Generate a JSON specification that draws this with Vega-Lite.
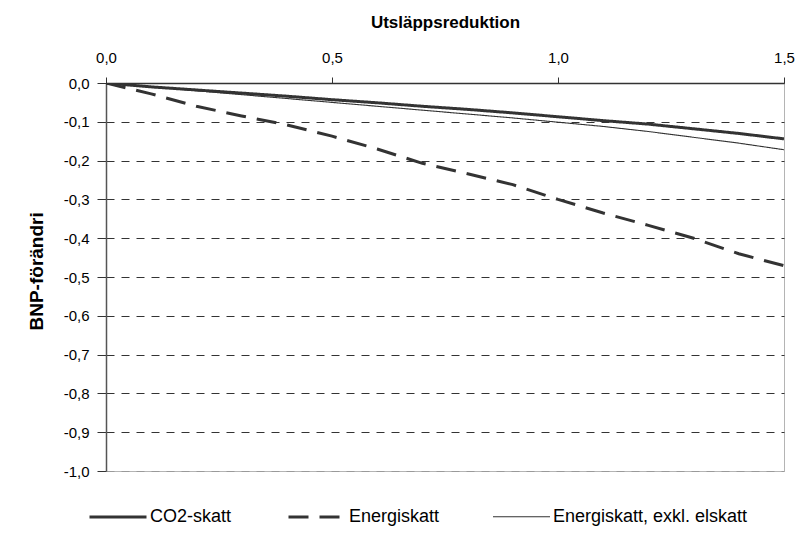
{
  "$schema": "https://vega.github.io/schema/vega-lite/v6.json",
  "width": 678,
  "height": 388,
  "autosize": {"type": "none"},
  "padding": {"left": 106, "top": 83, "right": 11, "bottom": 64},
  "background": "white",
  "config": {
    "font": "Liberation Sans",
    "locale": {"number": {"decimal": ",", "thousands": " ", "grouping": [3], "currency": ["", " kr"], "minus": "-"}},
    "view": {"stroke": "#b4b4b4", "strokeWidth": 1}
  },
  "data": {
    "values": [
      {"reduktion": 0.0, "bnp": 0.0, "serie": "CO2-skatt"},
      {"reduktion": 0.1, "bnp": -0.010, "serie": "CO2-skatt"},
      {"reduktion": 0.2, "bnp": -0.018, "serie": "CO2-skatt"},
      {"reduktion": 0.3, "bnp": -0.026, "serie": "CO2-skatt"},
      {"reduktion": 0.4, "bnp": -0.034, "serie": "CO2-skatt"},
      {"reduktion": 0.5, "bnp": -0.043, "serie": "CO2-skatt"},
      {"reduktion": 0.6, "bnp": -0.051, "serie": "CO2-skatt"},
      {"reduktion": 0.7, "bnp": -0.060, "serie": "CO2-skatt"},
      {"reduktion": 0.8, "bnp": -0.068, "serie": "CO2-skatt"},
      {"reduktion": 0.9, "bnp": -0.077, "serie": "CO2-skatt"},
      {"reduktion": 1.0, "bnp": -0.087, "serie": "CO2-skatt"},
      {"reduktion": 1.1, "bnp": -0.097, "serie": "CO2-skatt"},
      {"reduktion": 1.2, "bnp": -0.106, "serie": "CO2-skatt"},
      {"reduktion": 1.3, "bnp": -0.118, "serie": "CO2-skatt"},
      {"reduktion": 1.4, "bnp": -0.130, "serie": "CO2-skatt"},
      {"reduktion": 1.5, "bnp": -0.144, "serie": "CO2-skatt"},
      {"reduktion": 0.0, "bnp": 0.0, "serie": "Energiskatt"},
      {"reduktion": 0.1, "bnp": -0.028, "serie": "Energiskatt"},
      {"reduktion": 0.2, "bnp": -0.060, "serie": "Energiskatt"},
      {"reduktion": 0.3, "bnp": -0.085, "serie": "Energiskatt"},
      {"reduktion": 0.4, "bnp": -0.108, "serie": "Energiskatt"},
      {"reduktion": 0.5, "bnp": -0.137, "serie": "Energiskatt"},
      {"reduktion": 0.6, "bnp": -0.170, "serie": "Energiskatt"},
      {"reduktion": 0.7, "bnp": -0.207, "serie": "Energiskatt"},
      {"reduktion": 0.8, "bnp": -0.234, "serie": "Energiskatt"},
      {"reduktion": 0.9, "bnp": -0.262, "serie": "Energiskatt"},
      {"reduktion": 1.0, "bnp": -0.300, "serie": "Energiskatt"},
      {"reduktion": 1.1, "bnp": -0.335, "serie": "Energiskatt"},
      {"reduktion": 1.2, "bnp": -0.367, "serie": "Energiskatt"},
      {"reduktion": 1.3, "bnp": -0.400, "serie": "Energiskatt"},
      {"reduktion": 1.4, "bnp": -0.440, "serie": "Energiskatt"},
      {"reduktion": 1.5, "bnp": -0.471, "serie": "Energiskatt"},
      {"reduktion": 0.0, "bnp": 0.0, "serie": "Energiskatt, exkl. elskatt"},
      {"reduktion": 0.1, "bnp": -0.010, "serie": "Energiskatt, exkl. elskatt"},
      {"reduktion": 0.2, "bnp": -0.020, "serie": "Energiskatt, exkl. elskatt"},
      {"reduktion": 0.3, "bnp": -0.030, "serie": "Energiskatt, exkl. elskatt"},
      {"reduktion": 0.4, "bnp": -0.040, "serie": "Energiskatt, exkl. elskatt"},
      {"reduktion": 0.5, "bnp": -0.050, "serie": "Energiskatt, exkl. elskatt"},
      {"reduktion": 0.6, "bnp": -0.060, "serie": "Energiskatt, exkl. elskatt"},
      {"reduktion": 0.7, "bnp": -0.070, "serie": "Energiskatt, exkl. elskatt"},
      {"reduktion": 0.8, "bnp": -0.080, "serie": "Energiskatt, exkl. elskatt"},
      {"reduktion": 0.9, "bnp": -0.090, "serie": "Energiskatt, exkl. elskatt"},
      {"reduktion": 1.0, "bnp": -0.101, "serie": "Energiskatt, exkl. elskatt"},
      {"reduktion": 1.1, "bnp": -0.112, "serie": "Energiskatt, exkl. elskatt"},
      {"reduktion": 1.2, "bnp": -0.125, "serie": "Energiskatt, exkl. elskatt"},
      {"reduktion": 1.3, "bnp": -0.140, "serie": "Energiskatt, exkl. elskatt"},
      {"reduktion": 1.4, "bnp": -0.155, "serie": "Energiskatt, exkl. elskatt"},
      {"reduktion": 1.5, "bnp": -0.172, "serie": "Energiskatt, exkl. elskatt"}
    ]
  },
  "mark": {"type": "line", "color": "#333333", "clip": true, "strokeCap": "butt"},
  "encoding": {
    "x": {
      "field": "reduktion",
      "type": "quantitative",
      "scale": {"domain": [0, 1.5], "nice": false, "zero": false},
      "axis": {
        "orient": "top",
        "title": "Utsläppsreduktion",
        "titleFont": "Liberation Sans",
        "titleFontSize": 17,
        "titleFontWeight": "bold",
        "titleColor": "#000000",
        "titleY": -56,
        "titleBaseline": "alphabetic",
        "values": [0, 0.5, 1, 1.5],
        "format": ".1f",
        "labelFontSize": 15,
        "labelColor": "#000000",
        "labelPadding": 12,
        "labelFlush": false,
        "labelOverlap": false,
        "tickSize": 6,
        "tickColor": "#333333",
        "domainColor": "#333333",
        "domainWidth": 1.5,
        "grid": false
      }
    },
    "y": {
      "field": "bnp",
      "type": "quantitative",
      "scale": {"domain": [-1, 0], "nice": false, "zero": false},
      "axis": {
        "orient": "left",
        "title": "BNP-förändri",
        "titleFont": "Liberation Sans",
        "titleFontSize": 19,
        "titleFontWeight": "bold",
        "titleColor": "#000000",
        "titleAngle": -90,
        "titleAlign": "left",
        "titleBaseline": "alphabetic",
        "titleX": -64,
        "titleY": 247,
        "values": [0, -0.1, -0.2, -0.3, -0.4, -0.5, -0.6, -0.7, -0.8, -0.9, -1],
        "format": ".1f",
        "labelFontSize": 15,
        "labelColor": "#000000",
        "labelPadding": 8,
        "labelFlush": false,
        "labelOverlap": false,
        "tickSize": 9,
        "tickColor": "#333333",
        "domainColor": "#555555",
        "domainWidth": 1.5,
        "grid": true,
        "gridDash": [8, 7],
        "gridWidth": 1,
        "gridColor": {"condition": {"test": "datum.value <= -1", "value": "#9a9a9a"}, "value": "#333333"}
      }
    },
    "strokeDash": {
      "field": "serie",
      "type": "nominal",
      "scale": {
        "domain": ["CO2-skatt", "Energiskatt", "Energiskatt, exkl. elskatt"],
        "range": [[1, 0], [20, 11], [1, 0]]
      },
      "legend": {
        "title": null,
        "orient": "none",
        "direction": "horizontal",
        "legendX": -18,
        "legendY": 404,
        "symbolType": "stroke",
        "symbolSize": 3249,
        "symbolStrokeColor": "#333333",
        "labelFont": "Liberation Sans",
        "labelFontSize": 18,
        "labelColor": "#000000",
        "labelOffset": 2,
        "labelLimit": 400,
        "columnPadding": 50
      }
    },
    "strokeWidth": {
      "field": "serie",
      "type": "nominal",
      "scale": {
        "type": "ordinal",
        "domain": ["CO2-skatt", "Energiskatt", "Energiskatt, exkl. elskatt"],
        "range": [3, 3, 1.1]
      },
      "legend": {
        "title": null,
        "orient": "none",
        "direction": "horizontal",
        "legendX": -18,
        "legendY": 404,
        "symbolType": "stroke",
        "symbolSize": 3249,
        "symbolStrokeColor": "#333333",
        "labelFont": "Liberation Sans",
        "labelFontSize": 18,
        "labelColor": "#000000",
        "labelOffset": 2,
        "labelLimit": 400,
        "columnPadding": 50
      }
    }
  }
}
